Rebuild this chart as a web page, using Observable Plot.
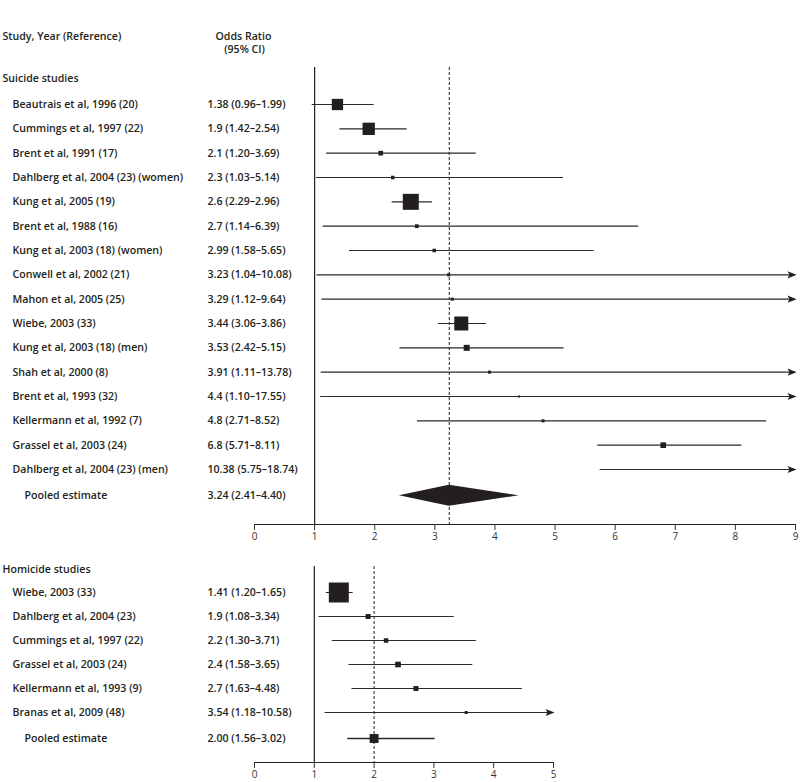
<!DOCTYPE html>
<html>
<head>
<meta charset="utf-8">
<script src="https://cdn.jsdelivr.net/npm/d3@7"></script>
<script src="https://cdn.jsdelivr.net/npm/@observablehq/plot@0.6"></script>
<style>
  html, body { margin: 0; padding: 0; background: #fff; }
  #chart svg { display: block; }
</style>
</head>
<body>
<div id="chart"></div>
<script>
// ---------- Suicide studies ----------
const suicideStudies = [
  "Beautrais et al, 1996 (20)", "Cummings et al, 1997 (22)", "Brent et al, 1991 (17)",
  "Dahlberg et al, 2004 (23) (women)", "Kung et al, 2005 (19)", "Brent et al, 1988 (16)",
  "Kung et al, 2003 (18) (women)", "Conwell et al, 2002 (21)", "Mahon et al, 2005 (25)",
  "Wiebe, 2003 (33)", "Kung et al, 2003 (18) (men)", "Shah et al, 2000 (8)",
  "Brent et al, 1993 (32)", "Kellermann et al, 1992 (7)", "Grassel et al, 2003 (24)",
  "Dahlberg et al, 2004 (23) (men)"
];
const suicideOR = [1.38, 1.9, 2.1, 2.3, 2.6, 2.7, 2.99, 3.23, 3.29, 3.44, 3.53, 3.91, 4.4, 4.8, 6.8, 10.38];
const suicideLo = [0.96, 1.42, 1.20, 1.03, 2.29, 1.14, 1.58, 1.04, 1.12, 3.06, 2.42, 1.11, 1.10, 2.71, 5.71, 5.75];
const suicideHi = [1.99, 2.54, 3.69, 5.14, 2.96, 6.39, 5.65, 10.08, 9.64, 3.86, 5.15, 13.78, 17.55, 8.52, 8.11, 18.74];
const suicideCI = [
  "1.38 (0.96–1.99)", "1.9 (1.42–2.54)", "2.1 (1.20–3.69)", "2.3 (1.03–5.14)",
  "2.6 (2.29–2.96)", "2.7 (1.14–6.39)", "2.99 (1.58–5.65)", "3.23 (1.04–10.08)",
  "3.29 (1.12–9.64)", "3.44 (3.06–3.86)", "3.53 (2.42–5.15)", "3.91 (1.11–13.78)",
  "4.4 (1.10–17.55)", "4.8 (2.71–8.52)", "6.8 (5.71–8.11)", "10.38 (5.75–18.74)"
];
// relative study weights (marker area)
const suicideWeights = [32, 38, 5.5, 3.1, 64, 3.6, 3.1, 2.3, 2.3, 49, 9, 2.3, 1, 2.3, 8, 8];
const suicidePooled = {or: 3.24, lo: 2.41, hi: 4.40, text: "3.24 (2.41–4.40)"};
const suicideTicks = [0, 1, 2, 3, 4, 5, 6, 7, 8, 9];

// ---------- Homicide studies ----------
const homicideStudies = [
  "Wiebe, 2003 (33)", "Dahlberg et al, 2004 (23)", "Cummings et al, 1997 (22)",
  "Grassel et al, 2003 (24)", "Kellermann et al, 1993 (9)", "Branas et al, 2009 (48)"
];
const homicideOR = [1.41, 1.9, 2.2, 2.4, 2.7, 3.54];
const homicideLo = [1.20, 1.08, 1.30, 1.58, 1.63, 1.18];
const homicideHi = [1.65, 3.34, 3.71, 3.65, 4.48, 10.58];
const homicideCI = [
  "1.41 (1.20–1.65)", "1.9 (1.08–3.34)", "2.2 (1.30–3.71)",
  "2.4 (1.58–3.65)", "2.7 (1.63–4.48)", "3.54 (1.18–10.58)"
];
const homicideWeights = [100, 6.3, 5, 8, 6.3, 2.3];
const homicidePooled = {or: 2.00, lo: 1.56, hi: 3.02, text: "2.00 (1.56–3.02)", w: 20};
const homicideTicks = [0, 1, 2, 3, 4, 5];

// ---------- helpers ----------
const INK = "#231f20";
const FONT = "'Open Sans', 'DejaVu Sans', sans-serif";
const squareSym = {draw(ctx, size) { const s = Math.sqrt(size / Math.PI); ctx.rect(-s, -s, 2 * s, 2 * s); }};
const arrowSym = {draw(ctx) { ctx.moveTo(1, 0); ctx.lineTo(-8, -3.6); ctx.lineTo(-6, 0); ctx.lineTo(-8, 3.6); ctx.closePath(); }};
const rScale = {type: "sqrt", domain: [0, 100], range: [0, 10]};
const textOpts = {fontSize: 10.6, fontWeight: 600, fill: INK, fontFamily: FONT};

function makeRows(names, or, lo, hi, ci, w) {
  return names.map((name, i) => ({i, name, or: or[i], lo: lo[i], hi: hi[i], ci: ci[i], w: w[i]}));
}

function panel({data, pooled, ticks, height, marginTop, marginBottom, marginRight, yRange, pooledDiamond, sectionTitle, sectionDy, header}) {
  const xmax = ticks[ticks.length - 1];
  const n = data.length;
  const pooledRow = [{...pooled, i: n}];
  const marks = [
    Plot.frame({anchor: "bottom", stroke: INK, strokeWidth: 1}),
    Plot.axisX({ticks, tickSize: 6, tickPadding: 2, tickFormat: d => String(d), label: null,
      fontSize: 10, fontWeight: 400, color: "#333", fontFamily: FONT}),
    Plot.ruleX([1], {stroke: INK, strokeWidth: 1.2}),
    Plot.ruleX([pooled.or], {stroke: INK, strokeWidth: 1, strokeDasharray: "3,2"}),
    Plot.ruleY(data, {y: "i", x1: "lo", x2: d => Math.min(d.hi, xmax), stroke: "#2a2a2a", strokeWidth: 1.1}),
    Plot.dot(data.filter(d => d.hi > xmax), {x: () => xmax, y: "i", symbol: arrowSym, r: 4, fill: INK, stroke: "none"}),
    Plot.dot(data.filter(d => d.or <= xmax), {x: "or", y: "i", r: "w", symbol: squareSym, fill: INK, stroke: "none"}),
    Plot.text(data, {y: "i", text: "name", frameAnchor: "left", textAnchor: "start", dx: -242, ...textOpts}),
    Plot.text(data, {y: "i", text: "ci", frameAnchor: "left", textAnchor: "start", dx: -47, ...textOpts}),
    Plot.text(pooledRow, {y: "i", text: () => "Pooled estimate", frameAnchor: "left", textAnchor: "start", dx: -230, dy: 2, ...textOpts}),
    Plot.text(pooledRow, {y: "i", text: "text", frameAnchor: "left", textAnchor: "start", dx: -47, dy: 2, ...textOpts}),
    Plot.text([sectionTitle], {text: d => d, frameAnchor: "top-left", textAnchor: "start", lineAnchor: "middle", dx: -252, dy: sectionDy, ...textOpts})
  ];
  if (pooledDiamond) {
    const h = 0.43;
    const pts = [
      {x: pooled.lo, y1: n, y2: n},
      {x: pooled.or, y1: n - h, y2: n + h},
      {x: pooled.hi, y1: n, y2: n}
    ];
    marks.push(Plot.areaY(pts, {x: "x", y1: "y1", y2: "y2", fill: INK, dy: 2}));
  } else {
    marks.push(Plot.ruleY(pooledRow, {y: "i", x1: "lo", x2: "hi", stroke: "#2a2a2a", strokeWidth: 1.3, dy: 2}));
    marks.push(Plot.dot(pooledRow, {x: "or", y: "i", r: "w", symbol: squareSym, fill: INK, stroke: "none", dy: 2}));
  }
  if (header) {
    marks.push(Plot.text(["Study, Year (Reference)"], {text: d => d, frameAnchor: "top-left", textAnchor: "start", lineAnchor: "middle", dx: -252, dy: -31, ...textOpts}));
    marks.push(Plot.text(["Odds Ratio"], {text: d => d, frameAnchor: "top-left", textAnchor: "middle", lineAnchor: "middle", dx: -11, dy: -31, ...textOpts}));
    marks.push(Plot.text(["(95% CI)"], {text: d => d, frameAnchor: "top-left", textAnchor: "middle", lineAnchor: "middle", dx: -10, dy: -18, ...textOpts}));
  }
  return Plot.plot({
    width: 800, height, marginTop, marginBottom, marginLeft: 254, marginRight,
    x: {domain: [0, xmax]},
    y: {domain: [0, n - 1], range: yRange, axis: null},
    r: rScale,
    style: {fontFamily: FONT, background: "#fff", color: INK, overflow: "visible"},
    marks
  });
}

const suicideRows = makeRows(suicideStudies, suicideOR, suicideLo, suicideHi, suicideCI, suicideWeights);
const homicideRows = makeRows(homicideStudies, homicideOR, homicideLo, homicideHi, homicideCI, homicideWeights);

const suicidePanel = panel({
  data: suicideRows, pooled: {...suicidePooled, w: 0}, ticks: suicideTicks,
  height: 560, marginTop: 67, marginBottom: 36, marginRight: 5,
  yRange: [104, 469], pooledDiamond: true,
  sectionTitle: "Suicide studies", sectionDy: 11, header: true
});
const homicidePanel = panel({
  data: homicideRows, pooled: homicidePooled, ticks: homicideTicks,
  height: 222, marginTop: 6, marginBottom: 20, marginRight: 247,
  yRange: [32, 152], pooledDiamond: false,
  sectionTitle: "Homicide studies", sectionDy: 3, header: false
});
document.getElementById("chart").append(suicidePanel, homicidePanel);
</script>
</body>
</html>
